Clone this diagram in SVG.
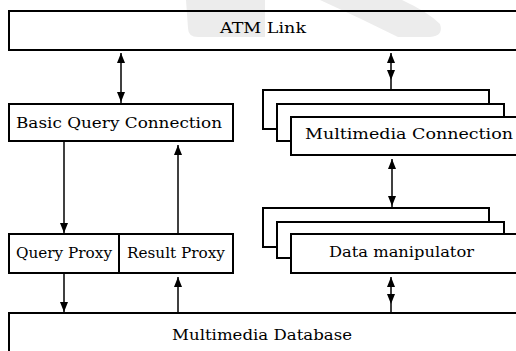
<svg xmlns="http://www.w3.org/2000/svg" width="516" height="351" viewBox="0 0 516 351">
  <style>
    .box { fill: none; stroke: #000; stroke-width: 2; }
    .stack { fill: #fff; stroke: #000; stroke-width: 2; }
    .wire { stroke: #000; stroke-width: 1.5; fill: none; }
    .tip { fill: #000; }
    .mark { fill: #ececec; }
    text { font-family: "DejaVu Serif", "Liberation Serif", serif; font-size: 15px; fill: #000; }
  </style>
  <defs>
    <!-- arrow tip pointing down, tip at origin -->
    <path id="down" d="M-4,-10 L4,-10 L0,0 Z"/>
    <path id="up" d="M-4,10 L4,10 L0,0 Z"/>
  </defs>

  <!-- faint background emblem -->
  <g id="emblem">
    <path class="mark" d="M186,0 L265,0 L265,37 L198,37 Q188,37 188,28 Z"/>
    <path class="mark" d="M320,0 L402,0 Q428,12 440,24 Q444,36 430,37 L398,37 Q360,18 320,0 Z"/>
  </g>

  <g id="atm-link">
    <rect class="box" x="9" y="11" width="520" height="39"/>
    <text x="220" y="33" textLength="86" lengthAdjust="spacingAndGlyphs">ATM Link</text>
  </g>

  <g id="basic-query-connection">
    <rect class="box" x="9" y="104" width="224" height="37"/>
    <text x="16" y="128" textLength="206" lengthAdjust="spacingAndGlyphs">Basic Query Connection</text>
  </g>

  <g id="query-proxy">
    <rect class="box" x="9" y="234" width="110" height="39"/>
    <text x="16" y="258" textLength="96" lengthAdjust="spacingAndGlyphs">Query Proxy</text>
  </g>

  <g id="result-proxy">
    <rect class="box" x="119" y="234" width="114" height="39"/>
    <text x="127" y="258" textLength="98" lengthAdjust="spacingAndGlyphs">Result Proxy</text>
  </g>

  <g id="multimedia-connection">
    <rect class="stack" x="263" y="90" width="226" height="39"/>
    <rect class="stack" x="277" y="104" width="227" height="37"/>
    <rect class="stack" x="291" y="117" width="240" height="38"/>
    <text x="305" y="139" textLength="208" lengthAdjust="spacingAndGlyphs">Multimedia Connection</text>
  </g>

  <g id="data-manipulator">
    <rect class="stack" x="263" y="208" width="226" height="39"/>
    <rect class="stack" x="277" y="222" width="227" height="36"/>
    <rect class="stack" x="291" y="234" width="240" height="39"/>
    <text x="329" y="257" textLength="145" lengthAdjust="spacingAndGlyphs">Data manipulator</text>
  </g>

  <g id="multimedia-database">
    <rect class="box" x="9" y="313" width="520" height="50"/>
    <text x="172" y="340" textLength="180" lengthAdjust="spacingAndGlyphs">Multimedia Database</text>
  </g>

  <g id="connectors">
    <!-- ATM Link <-> Basic Query Connection -->
    <line class="wire" x1="121" y1="53" x2="121" y2="103"/>
    <use href="#up" class="tip" x="121" y="53"/>
    <use href="#down" class="tip" x="121" y="102"/>
    <!-- ATM Link <-> Multimedia Connection -->
    <line class="wire" x1="391" y1="53" x2="391" y2="89"/>
    <use href="#up" class="tip" x="391" y="53"/>
    <use href="#down" class="tip" x="391" y="80"/>
    <!-- Basic Query Connection -> Query Proxy -->
    <line class="wire" x1="64" y1="141" x2="64" y2="233"/>
    <use href="#down" class="tip" x="64" y="233"/>
    <!-- Result Proxy -> Basic Query Connection -->
    <line class="wire" x1="178" y1="234" x2="178" y2="145"/>
    <use href="#up" class="tip" x="178" y="145"/>
    <!-- Multimedia Connection <-> Data manipulator -->
    <line class="wire" x1="392" y1="159" x2="392" y2="207"/>
    <use href="#up" class="tip" x="392" y="159"/>
    <use href="#down" class="tip" x="392" y="206"/>
    <!-- Query Proxy -> Multimedia Database -->
    <line class="wire" x1="64" y1="273" x2="64" y2="312"/>
    <use href="#down" class="tip" x="64" y="312"/>
    <!-- Multimedia Database -> Result Proxy -->
    <line class="wire" x1="178" y1="313" x2="178" y2="277"/>
    <use href="#up" class="tip" x="178" y="277"/>
    <!-- Data manipulator <-> Multimedia Database -->
    <line class="wire" x1="391" y1="277" x2="391" y2="313"/>
    <use href="#up" class="tip" x="391" y="277"/>
    <use href="#down" class="tip" x="391" y="304"/>
  </g>
</svg>
